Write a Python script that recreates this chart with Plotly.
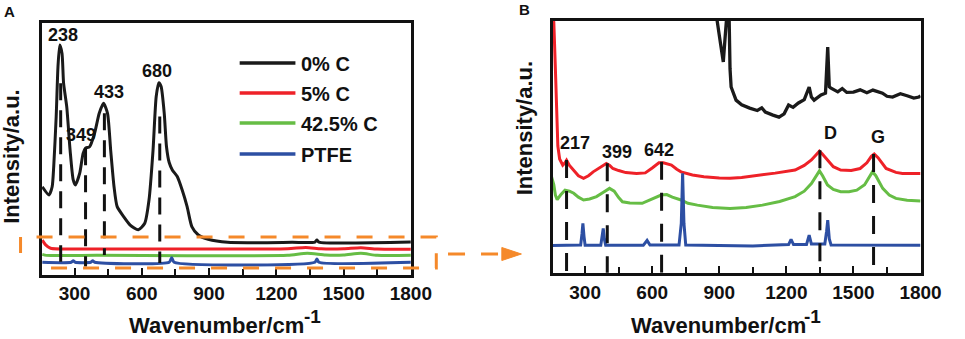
import plotly.graph_objects as go

W, H = 965, 339

# ---------------- data ----------------
series_names = ["0% C", "5% C", "42.5% C", "PTFE"]
series_colors = ["#1a1a1a", "#ee2128", "#66bd45", "#2d4fa3"]

# Panel A (full range spectra)
a_black_x = [156, 186, 200, 207, 218, 226, 234, 244, 251, 265, 280, 294, 304, 323, 338, 348, 367,
             389, 410, 429, 447, 461, 476, 490, 519, 548, 584, 613, 632, 650, 664, 676, 686, 700,
             710, 722, 736, 758, 780, 802, 823, 852, 896, 983, 1270, 1372, 1381, 1390, 1800]
a_black_y = [35.0, 31.8, 35.0, 42.9, 62.5, 82.1, 90.6, 87.3, 75.6, 66.4, 49.4, 37.7, 35.7, 40.3, 48.1,
             50.1, 50.7, 55.9, 63.8, 67.7, 63.8, 49.4, 35.0, 27.2, 23.3, 20.0, 18.1, 20.7, 29.8, 49.4,
             70.3, 75.8, 74.3, 63.8, 50.7, 44.5, 41.6, 39.0, 33.7, 27.2, 19.4, 16.1, 14.4, 13.2, 13.2,
             13.3, 14.1, 13.3, 13.3]
a_red_x = [156, 171, 193, 400, 800, 1250, 1331, 1400, 1500, 1577, 1650, 1800]
a_red_y = [14.1, 12.2, 10.9, 10.6, 10.6, 10.7, 11.2, 10.7, 10.7, 11.1, 10.6, 10.5]
a_green_x = [156, 175, 400, 800, 1250, 1338, 1420, 1500, 1577, 1650, 1800]
a_green_y = [8.5, 8.1, 8.1, 8.0, 8.1, 8.9, 8.2, 8.2, 8.9, 8.1, 8.1]
a_blue_x = [156, 285, 294, 303, 372, 381, 390, 722, 733, 744, 1372, 1381, 1390, 1800]
a_blue_y = [5.4, 5.4, 6.0, 5.4, 5.4, 6.0, 5.4, 5.4, 7.2, 5.4, 5.4, 6.7, 5.4, 5.4]

# Panel B (magnified)
b_black_x = [870, 888, 905, 918, 926, 935, 942, 948, 953, 975, 1000, 1036, 1070, 1090, 1106, 1140,
             1167, 1190, 1210, 1230, 1254, 1280, 1302, 1312, 1324, 1355, 1375, 1385, 1392, 1398,
             1430, 1450, 1470, 1500, 1530, 1560, 1587, 1630, 1650, 1675, 1710, 1740, 1770, 1793, 1800]
b_black_y = [118, 100, 90, 82.6, 92, 110, 110, 80, 72.9, 67.8, 66.0, 64.7, 63.8, 64.8, 63.2, 62.0,
             61.2, 62.5, 65.9, 65.0, 66.7, 68.0, 72.9, 69.0, 67.8, 69.8, 70.5, 88.4, 73.0, 72.5,
             71.0, 72.3, 70.8, 70.9, 71.8, 70.7, 71.7, 70.5, 69.3, 69.0, 70.3, 69.5, 68.6, 69.0, 69.5]
b_red_x = [150, 160, 167, 173, 178, 186, 200, 210, 217, 230, 249, 270, 293, 315, 336, 370, 395, 410,
           424, 450, 482, 530, 569, 600, 630, 650, 670, 686, 710, 729, 780, 831, 900, 948, 1000,
           1093, 1150, 1239, 1280, 1312, 1335, 1348, 1360, 1384, 1410, 1443, 1490, 1530, 1560, 1580,
           1593, 1610, 1630, 1646, 1690, 1719, 1800]
b_red_y = [105, 98, 80, 60, 50, 45, 42.6, 43.5, 44.5, 42.5, 40.7, 38.5, 37.5, 38.5, 40.0, 42.0, 43.2,
           42.5, 41.3, 40.5, 39.7, 39.4, 39.6, 41.5, 43.5, 43.5, 43.0, 42.6, 41.0, 40.0, 38.8, 38.1,
           37.6, 37.5, 37.8, 38.8, 39.5, 40.7, 42.5, 44.6, 47.0, 48.0, 47.0, 44.6, 42.0, 40.7, 40.5,
           41.3, 43.5, 46.0, 46.9, 45.5, 43.0, 41.3, 39.8, 39.4, 39.4]
b_green_x = [150, 160, 167, 175, 190, 210, 230, 249, 270, 293, 320, 351, 380, 409, 430, 450, 467, 500,
             555, 600, 640, 665, 690, 729, 760, 802, 870, 948, 1020, 1093, 1170, 1239, 1280, 1312,
             1335, 1348, 1362, 1384, 1410, 1443, 1480, 1515, 1550, 1570, 1585, 1600, 1631, 1660,
             1690, 1740, 1800]
b_green_y = [38, 35, 31, 29.2, 31, 32.9, 32.5, 31.7, 30.2, 29.1, 29.5, 30.4, 32.0, 33.6, 32.5, 30.0,
             28.4, 27.9, 27.8, 29.5, 31.0, 31.2, 30.2, 29.1, 27.8, 27.1, 26.2, 25.8, 26.2, 27.1, 28.5,
             30.4, 32.5, 35.5, 39.0, 40.4, 38.5, 34.9, 33.2, 32.3, 32.3, 32.9, 35.0, 38.0, 40.0, 38.5,
             33.6, 31.0, 29.7, 29.0, 28.7]
b_blue_x = [150, 280, 286, 290, 295, 300, 370, 376, 381, 386, 392, 560, 577, 590, 720, 730, 736, 742,
            750, 1050, 1210, 1221, 1232, 1290, 1302, 1312, 1372, 1380, 1385, 1392, 1400, 1800]
b_blue_y = [11.4, 11.6, 16, 20.0, 15, 11.5, 11.5, 15, 18.1, 14, 11.5, 11.5, 13.4, 11.6, 11.6, 20,
            39.4, 20, 11.6, 11.3, 11.8, 13.8, 11.8, 11.8, 15.5, 12, 12, 17, 21.3, 14, 11.6, 11.5]

# peak markers
a_peak_labels = ["238", "349", "433", "680"]
a_peak_pos = [238, 349, 433, 680]
b_peak_labels = ["217", "399", "642", "D", "G"]
b_peak_pos = [217, 399, 642, 1350, 1590]

x_ticks = [300, 600, 900, 1200, 1500, 1800]

# ---------------- helpers (pixel -> paper) ----------------
def px(x):
    return x / W


def py(y):
    return 1 - y / H


FONT = "Liberation Sans, Arial, sans-serif"
INK = "#111111"

fig = go.Figure()

a_sets = [(a_black_x, a_black_y), (a_red_x, a_red_y), (a_green_x, a_green_y), (a_blue_x, a_blue_y)]
b_sets = [(b_black_x, b_black_y), (b_red_x, b_red_y), (b_green_x, b_green_y), (b_blue_x, b_blue_y)]

for (xs, ys), name, col in zip(a_sets, series_names, series_colors):
    fig.add_trace(go.Scatter(x=xs, y=ys, mode="lines", name=name, showlegend=False,
                             line=dict(color=col, width=3, shape="spline", smoothing=0.6),
                             xaxis="x", yaxis="y"))
for (xs, ys), name, col in zip(b_sets, series_names, series_colors):
    fig.add_trace(go.Scatter(x=xs, y=ys, mode="lines", name=name, showlegend=False,
                             line=dict(color=col, width=3.3 if name == "0% C" else 3),
                             xaxis="x2", yaxis="y2"))

shapes = []
annotations = []

# dashed peak lines, panel A
a_line_span = [(75.6, 5.6), (50.1, 3.7), (63.8, 8.2), (62.5, 5.1)]
for pos, (top, bot) in zip(a_peak_pos, a_line_span):
    shapes.append(dict(type="line", xref="x", yref="y", x0=pos, x1=pos, y0=top, y1=bot,
                       line=dict(color=INK, width=3, dash="17px,10px"), layer="above"))
# dashed peak lines, panel B
b_line_span = [(44.6, 0.5), (43.3, 0.5), (43.9, 0.5), (48.4, 0.5), (46.9, 2.0)]
for pos, (top, bot) in zip(b_peak_pos, b_line_span):
    shapes.append(dict(type="line", xref="x2", yref="y2", x0=pos, x1=pos, y0=top, y1=bot,
                       line=dict(color=INK, width=3, dash="18px,13px"), layer="above"))

# peak labels
a_label_px = [(64, 35), (83, 135), (111, 92), (161, 71)]
for txt, (lx, ly) in zip(a_peak_labels, a_label_px):
    annotations.append(dict(text=txt, xref="paper", yref="paper", x=px(lx), y=py(ly),
                            xanchor="center", yanchor="middle", showarrow=False,
                            font=dict(family=FONT, size=18, color=INK, weight="bold")))
b_label_px = [(588, 143), (631, 152), (674, 150), (849, 133), (898, 137)]
for txt, (lx, ly) in zip(b_peak_labels, b_label_px):
    annotations.append(dict(text=txt, xref="paper", yref="paper", x=px(lx), y=py(ly),
                            xanchor="center", yanchor="middle", showarrow=False,
                            font=dict(family=FONT, size=18, color=INK, weight="bold")))

# legend (drawn manually to match sample length)
leg_y = [63, 93, 123, 154]
for name, col, ly in zip(series_names, series_colors, leg_y):
    shapes.append(dict(type="line", xref="paper", yref="paper", x0=px(245), x1=px(302),
                       y0=py(ly), y1=py(ly), line=dict(color=col, width=3.5)))
    annotations.append(dict(text=name, xref="paper", yref="paper", x=px(306), y=py(ly + 1),
                            xanchor="left", yanchor="middle", showarrow=False,
                            font=dict(family=FONT, size=20, color=INK, weight="bold")))

# orange dashed zoom box + arrow
ORANGE = "#f5892a"
box_path = "M {a},{b} L {a},{c} L {d},{c} L {d},{e} L {f},{e}".format(
    a=px(21), b=py(253), c=py(237), d=px(446), e=py(268), f=px(37))
shapes.append(dict(type="path", xref="paper", yref="paper", path=box_path,
                   line=dict(color=ORANGE, width=3, dash="16px,16px")))
shapes.append(dict(type="line", xref="paper", yref="paper", x0=px(458), x1=px(513),
                   y0=py(254), y1=py(254), line=dict(color=ORANGE, width=3, dash="17px,16px")))
tri = "M {a},{b} L {c},{d} L {a},{e} Z".format(a=px(513), b=py(247.5), c=px(533), d=py(254),
                                                 e=py(260.5))
shapes.append(dict(type="path", xref="paper", yref="paper", path=tri,
                   fillcolor=ORANGE, line=dict(color=ORANGE, width=1)))

# axis titles & panel letters
title_font = dict(family=FONT, size=22, color=INK, weight="bold")
for cx, sx in ((221.5, 319.5), (734.5, 830.5)):
    annotations.append(dict(text="Wavenumber/cm", xref="paper", yref="paper",
                            x=px(cx), y=py(339), xanchor="center", yanchor="bottom",
                            showarrow=False, borderpad=0, font=title_font))
    annotations.append(dict(text="-1", xref="paper", yref="paper",
                            x=px(sx), y=py(316), xanchor="center", yanchor="middle",
                            showarrow=False,
                            font=dict(family=FONT, size=19, color=INK, weight="bold")))
for cx, cy in ((11, 157), (536, 128)):
    annotations.append(dict(text="Intensity/a.u.", xref="paper", yref="paper", x=px(cx),
                            y=py(cy), xanchor="center", yanchor="middle", textangle=-90,
                            showarrow=False, font=title_font))
for txt, cx, cy in (("A", 10, 11), ("B", 536, 9)):
    annotations.append(dict(text=txt, xref="paper", yref="paper", x=px(cx), y=py(cy),
                            xanchor="center", yanchor="middle", showarrow=False,
                            font=dict(family=FONT, size=15, color=INK, weight="bold")))


def xaxis_cfg(x0, x1):
    return dict(domain=[px(x0), px(x1)], range=[155, 1800], tickmode="array", tickvals=x_ticks,
                ticktext=[str(t) for t in x_ticks], ticks="inside", ticklen=7, tickwidth=2,
                tickcolor=INK, showline=True, linewidth=3, linecolor=INK, mirror=True,
                showgrid=False, zeroline=False,
                tickfont=dict(family=FONT, size=19, color=INK, weight="bold"),
                minor=dict(tickvals=[450, 750, 1050, 1350, 1650], ticks="inside", ticklen=6,
                           tickwidth=2, tickcolor=INK, showgrid=False))


def yaxis_cfg(y_top, y_bot, rng, anchor):
    return dict(domain=[py(y_bot), py(y_top)], range=rng, showticklabels=False, ticks="",
                showline=True, linewidth=3, linecolor=INK, mirror=True, showgrid=False,
                zeroline=False, anchor=anchor)


xa = xaxis_cfg(43, 420)
xa["anchor"] = "y"
xb = xaxis_cfg(565, 941)
xb["anchor"] = "y2"

fig.update_layout(
    width=W, height=H, margin=dict(l=0, r=0, t=0, b=0),
    paper_bgcolor="white", plot_bgcolor="white",
    xaxis=xa, yaxis=yaxis_cfg(22.5, 274.5, [0.6, 99.4], "x"),
    xaxis2=xb, yaxis2=yaxis_cfg(20.7, 272.7, [0.9, 98.6], "x2"),
    shapes=shapes, annotations=annotations, showlegend=False,
    font=dict(family=FONT, color=INK),
)

fig.write_html("out.html", include_plotlyjs=True, config={"displayModeBar": False},
               post_script="document.body.style.margin='0';document.body.style.overflow='hidden';")
